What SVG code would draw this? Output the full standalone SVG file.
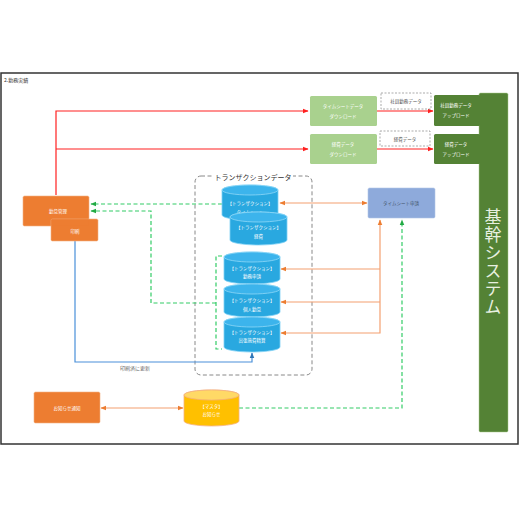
<svg xmlns="http://www.w3.org/2000/svg" width="520" height="520" viewBox="0 0 520 520">
<style>
text{font-family:"Noto Sans CJK JP","Noto Sans",sans-serif;text-anchor:middle;dominant-baseline:central}
.w{fill:#ffffff;font-size:4.5px}
.d{fill:#555555;font-size:4.5px}
.cyl{fill:#29a8e0;stroke:#7fd0f5;stroke-width:0.8}
.cyltop{fill:#3cb4ec;stroke:#8fd8f8;stroke-width:0.8}
.red{stroke:#ff2020;stroke-width:1.2;fill:none}
.org{stroke:#f4a070;stroke-width:1.2;fill:none}
.grn{stroke:#33cc66;stroke-width:1.2;fill:none;stroke-dasharray:4 2.5}
.blu{stroke:#4a90d9;stroke-width:1.2;fill:none}
</style>
<defs>
<marker id="ar" viewBox="0 0 10 10" refX="9" refY="5" markerWidth="5" markerHeight="5" orient="auto-start-reverse"><path d="M0,1 L10,5 L0,9 Z" fill="#ff2020"/></marker>
<marker id="ao" viewBox="0 0 10 10" refX="9" refY="5" markerWidth="5" markerHeight="5" orient="auto-start-reverse"><path d="M0,1 L10,5 L0,9 Z" fill="#ed7d31"/></marker>
<marker id="ag" viewBox="0 0 10 10" refX="9" refY="5" markerWidth="5" markerHeight="5" orient="auto-start-reverse"><path d="M0,1 L10,5 L0,9 Z" fill="#22aa44"/></marker>
<marker id="ab" viewBox="0 0 10 10" refX="9" refY="5" markerWidth="5" markerHeight="5" orient="auto-start-reverse"><path d="M0,1 L10,5 L0,9 Z" fill="#2e75b6"/></marker>
</defs>
<rect x="0" y="0" width="520" height="520" fill="#ffffff"/>
<rect x="1" y="73" width="517" height="371" fill="#ffffff" stroke="#333333" stroke-width="1.5"/>
<text x="4" y="79" style="font-size:5px;fill:#333;text-anchor:start">2.勤務実績</text>

<g id="transaction-group">
<rect x="195" y="176" width="117" height="199" rx="6" fill="none" stroke="#888888" stroke-width="1" stroke-dasharray="4 2.5"/>
<rect x="213" y="173" width="80" height="8" fill="#ffffff"/>
<text x="253" y="177" style="font-size:7px;fill:#333">トランザクションデータ</text>
</g>

<g id="connectors">
<polyline class="red" points="56,195 56,111 308,111" marker-end="url(#ar)"/>
<line class="red" x1="56" y1="149" x2="308" y2="149" marker-end="url(#ar)"/>
<line class="red" x1="377" y1="111" x2="433" y2="111" marker-end="url(#ar)"/>
<line class="red" x1="377" y1="149" x2="433" y2="149" marker-end="url(#ar)"/>
<line class="org" x1="367" y1="203" x2="280" y2="203" marker-start="url(#ao)" marker-end="url(#ao)"/>
<polyline class="org" points="380,220 380,333 281,333" marker-start="url(#ao)" marker-end="url(#ao)"/>
<line class="org" x1="380" y1="302" x2="281" y2="302" marker-end="url(#ao)"/>
<line class="org" x1="380" y1="269" x2="281" y2="269" marker-end="url(#ao)"/>
<line class="org" x1="101" y1="408" x2="183" y2="408" marker-start="url(#ao)" marker-end="url(#ao)"/>
<line class="grn" x1="222" y1="204" x2="91" y2="204" marker-end="url(#ag)"/>
<polyline class="grn" points="222,256 216,256 216,349 222,349"/>
<polyline class="grn" points="216,303 151,303 151,211 91,211" marker-end="url(#ag)"/>
<polyline class="grn" points="239,408 402,408 402,220" marker-end="url(#ag)"/>
<polyline class="blu" points="75,241 75,362 252,362 252,353" marker-end="url(#ab)"/>
<text x="135" y="367" style="font-size:5px;fill:#666">印刷済に更新</text>
</g>

<g id="kintai">
<rect x="23" y="196" width="66" height="30" rx="1.5" fill="#ed7d31" stroke="#f4b183" stroke-width="0.6"/>
<rect x="51" y="219" width="47" height="22" rx="1.5" fill="#ed7d31" stroke="#f4b183" stroke-width="0.6"/>
<rect x="51.5" y="219.5" width="37" height="6" fill="#ed7d31"/>
<text class="w" x="58" y="211">勤怠管理</text>
<text class="w" x="75" y="231">印刷</text>
</g>

<g id="ts-download">
<rect x="310" y="96" width="67" height="30" rx="1.5" fill="#a9d18e"/>
<text class="w" x="343" y="106">タイムシートデータ</text>
<text class="w" x="343" y="116">ダウンロード</text>
</g>
<g id="keihi-download">
<rect x="310" y="134" width="67" height="30" rx="1.5" fill="#a9d18e"/>
<text class="w" x="343" y="144">経費データ</text>
<text class="w" x="343" y="154">ダウンロード</text>
</g>
<g id="shain-data">
<rect x="381" y="93" width="50" height="16" fill="#ffffff" stroke="#888" stroke-width="0.7" stroke-dasharray="2 1.5"/>
<text class="d" x="406" y="101">社員勤務データ</text>
</g>
<g id="keihi-data">
<rect x="380" y="131" width="50" height="15" fill="#ffffff" stroke="#888" stroke-width="0.7" stroke-dasharray="2 1.5"/>
<text class="d" x="405" y="138.5">経費データ</text>
</g>

<g id="kikan">
<rect x="479" y="93" width="29" height="339" rx="1.5" fill="#548235" stroke="#a9c98e" stroke-width="0.5"/>
<rect x="434" y="95" width="46" height="31" rx="1.5" fill="#548235"/>
<rect x="434" y="134" width="46" height="30" rx="1.5" fill="#548235"/>
<text class="w" x="456" y="105">社員勤務データ</text>
<text class="w" x="456" y="115">アップロード</text>
<text class="w" x="456" y="144">経費データ</text>
<text class="w" x="456" y="154">アップロード</text>
<text x="493" y="262" style="font-size:17px;fill:#e8f0e0;writing-mode:vertical-rl;dominant-baseline:central;letter-spacing:1px">基幹システム</text>
</g>

<g id="ts-shinsei">
<rect x="368" y="188" width="67" height="30" rx="1.5" fill="#8eaadb" stroke="#b4c7e7" stroke-width="0.6"/>
<text x="401" y="203" style="font-size:4.5px;fill:#44546a">タイムシート申請</text>
</g>

<g id="cyl-timesheet">
<path class="cyl" d="M222,190 A28,5 0 0 1 278,190 V215 A28,5 0 0 1 222,215 Z"/>
<ellipse class="cyltop" cx="250" cy="190" rx="28" ry="5"/>
<text class="w" x="250" y="203">【トランザクション】</text>
<text class="w" x="250" y="212">タイムシート</text>
</g>
<g id="cyl-keihi">
<path class="cyl" d="M230,217 A28.5,5 0 0 1 287,217 V240 A28.5,5 0 0 1 230,240 Z"/>
<ellipse class="cyltop" cx="258.5" cy="217" rx="28.5" ry="5"/>
<text class="w" x="258.5" y="227">【トランザクション】</text>
<text class="w" x="258.5" y="236">経費</text>
</g>
<g id="cyl-kinmu">
<path class="cyl" d="M224,257 A28,5 0 0 1 280,257 V279 A28,5 0 0 1 224,279 Z"/>
<ellipse class="cyltop" cx="252" cy="257" rx="28" ry="5"/>
<text class="w" x="252" y="268">【トランザクション】</text>
<text class="w" x="252" y="276">勤務申請</text>
</g>
<g id="cyl-kojin">
<path class="cyl" d="M224,289 A28,5 0 0 1 280,289 V312 A28,5 0 0 1 224,312 Z"/>
<ellipse class="cyltop" cx="252" cy="289" rx="28" ry="5"/>
<text class="w" x="252" y="300">【トランザクション】</text>
<text class="w" x="252" y="309">個人勤怠</text>
</g>
<g id="cyl-shuccho">
<path class="cyl" d="M224,322 A28,5 0 0 1 280,322 V347 A28,5 0 0 1 224,347 Z"/>
<ellipse class="cyltop" cx="252" cy="322" rx="28" ry="5"/>
<text class="w" x="252" y="332">【トランザクション】</text>
<text class="w" x="252" y="340">出張旅費精算</text>
</g>

<g id="oshirase-tsuchi">
<rect x="34" y="392" width="66" height="31" rx="1.5" fill="#ed7d31" stroke="#f4b183" stroke-width="0.6"/>
<text class="w" x="67" y="407.5">お知らせ通知</text>
</g>
<g id="cyl-oshirase">
<path d="M184,395 A27.5,5 0 0 1 239,395 V421 A27.5,5 0 0 1 184,421 Z" fill="#ffc000" stroke="#f4b183" stroke-width="0.8"/>
<ellipse cx="211.5" cy="395" rx="27.5" ry="5" fill="#ffd966" stroke="#f4b183" stroke-width="0.8"/>
<text class="w" x="211.5" y="406">【マスタ】</text>
<text class="w" x="211.5" y="414">お知らせ</text>
</g>
</svg>
